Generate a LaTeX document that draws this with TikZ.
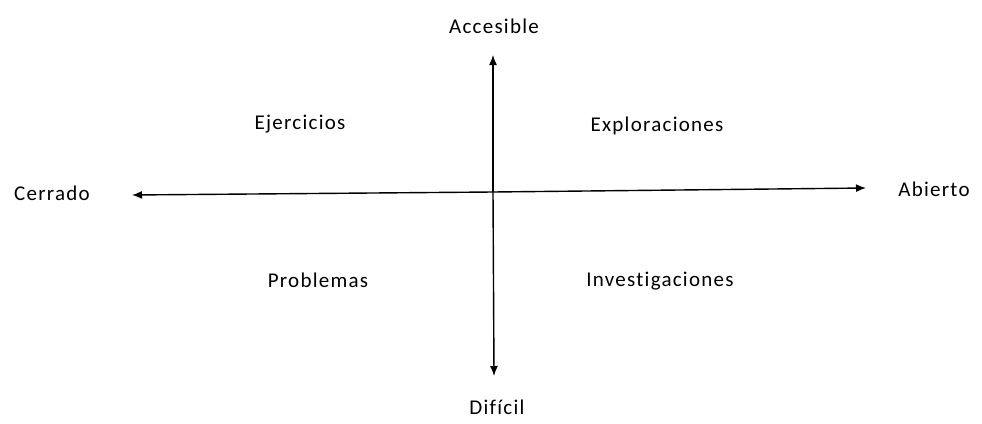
\documentclass[tikz,border=0pt]{standalone}
\usepackage{fontspec}
\setmainfont[Ligatures=NoCommon,LetterSpace=6]{Carlito}
\usetikzlibrary{arrows.meta}
\begin{document}
\begin{tikzpicture}[x=1pt,y=-1pt,
  lbl/.style={font=\fontsize{21}{25}\selectfont, inner sep=0pt},
  axis/.style={line width=1.4pt, -{Latex[length=10pt,width=8pt]}}]
\useasboundingbox (0,0) rectangle (982,423);
\node[lbl] (acc) at (494,26) {Accesible};
\node[lbl] (dif) at (497,407) {Difícil};
\node[lbl] (cer) at (52,193) {Cerrado};
\node[lbl] (abi) at (934,189) {Abierto};
\node[lbl] (eje) at (300,124) {Ejercicios};
\node[lbl] (exp) at (657,126) {Exploraciones};
\node[lbl] (pro) at (318,280) {Problemas};
\node[lbl] (inv) at (660,281) {Investigaciones};
\coordinate (c) at (493,192);
\coordinate (top) at (493,55);
\coordinate (bot) at (494,376);
\coordinate (lft) at (132,195);
\coordinate (rgt) at (866,188);
\draw[axis] (c) -- (top);
\draw[axis] (c) -- (bot);
\draw[axis] (c) -- (lft);
\draw[axis] (c) -- (rgt);
\end{tikzpicture}
\end{document}
